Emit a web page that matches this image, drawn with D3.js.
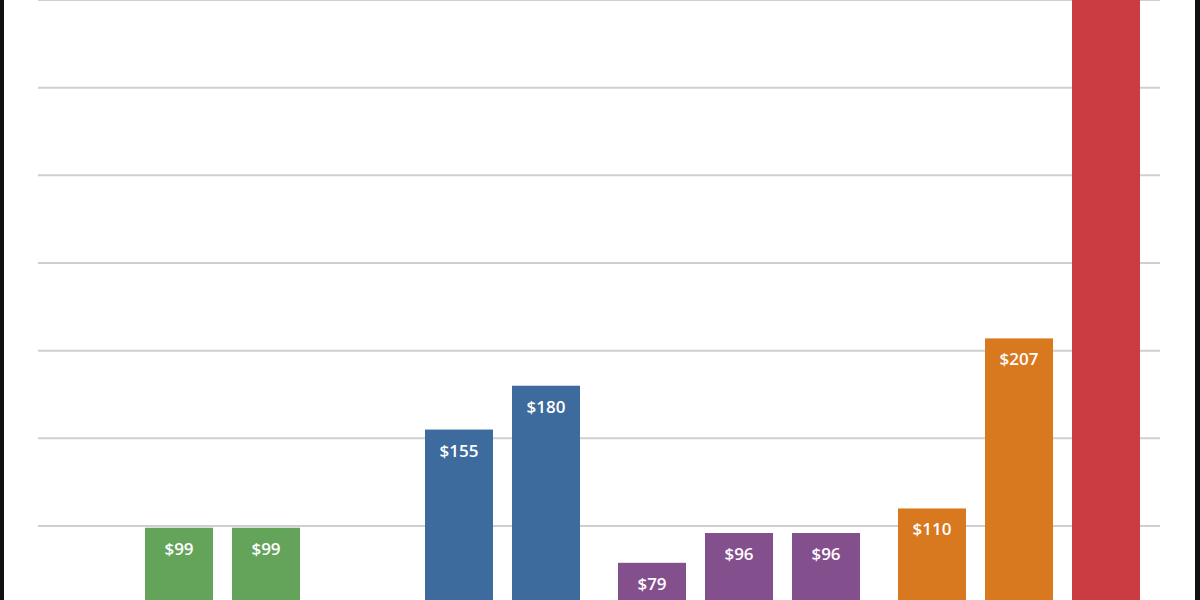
<!DOCTYPE html>
<html><head><meta charset="utf-8">
<script src="https://cdn.jsdelivr.net/npm/d3@7"></script>
<style>body{margin:0;background:#fff}</style></head>
<body><svg id="c" width="1200" height="600"></svg>
<script>
const slots  = [0,1,3,4,5,6,7,8,9,10];
const groups = [0,0,1,1,2,2,2,3,3,3];
const values = [99,99,155,180,79,96,96,110,207,460];
const labels = ["$99","$99","$155","$180","$79","$96","$96","$110","$207",""];
const colors = ["#63a35a","#63a35a","#3d6b9d","#3d6b9d","#844f8d","#844f8d","#844f8d","#d8781f","#d8781f","#cb3c42"];
const gridTicks = [100,150,200,250,300,350,400];

const svg = d3.select("#c");
const y = d3.scaleLinear().domain([100,400]).range([526,0]);
const x = d3.scaleLinear().domain([0,1]).range([145,232]);
const groupGap = 19, bw = 68;
svg.selectAll(".g").data(gridTicks).enter().append("line")
  .attr("x1",38).attr("x2",1160).attr("y1",d=>y(d)).attr("y2",d=>y(d))
  .attr("stroke","#cfcfcf").attr("stroke-width",2);
const bx = i => x(slots[i]) + groups[i]*groupGap;
svg.selectAll(".b").data(values).enter().append("rect")
  .attr("x",(d,i)=>bx(i)).attr("width",bw)
  .attr("y",d=>y(d)).attr("height",d=>y(0)-y(d))
  .attr("fill",(d,i)=>colors[i]);
svg.selectAll(".t").data(values).enter().append("text")
  .attr("x",(d,i)=>bx(i)+bw/2).attr("y",d=>Math.min(y(d)+27,593))
  .attr("text-anchor","middle").attr("fill","#fff")
  .attr("font-family","Open Sans, sans-serif").attr("font-weight","600").attr("font-size",17)
  .text((d,i)=>labels[i]);
svg.append("rect").attr("x",0).attr("y",0).attr("width",4).attr("height",600).attr("fill","#111");
svg.append("rect").attr("x",1195).attr("y",0).attr("width",5).attr("height",600).attr("fill","#111");
</script></body></html>
